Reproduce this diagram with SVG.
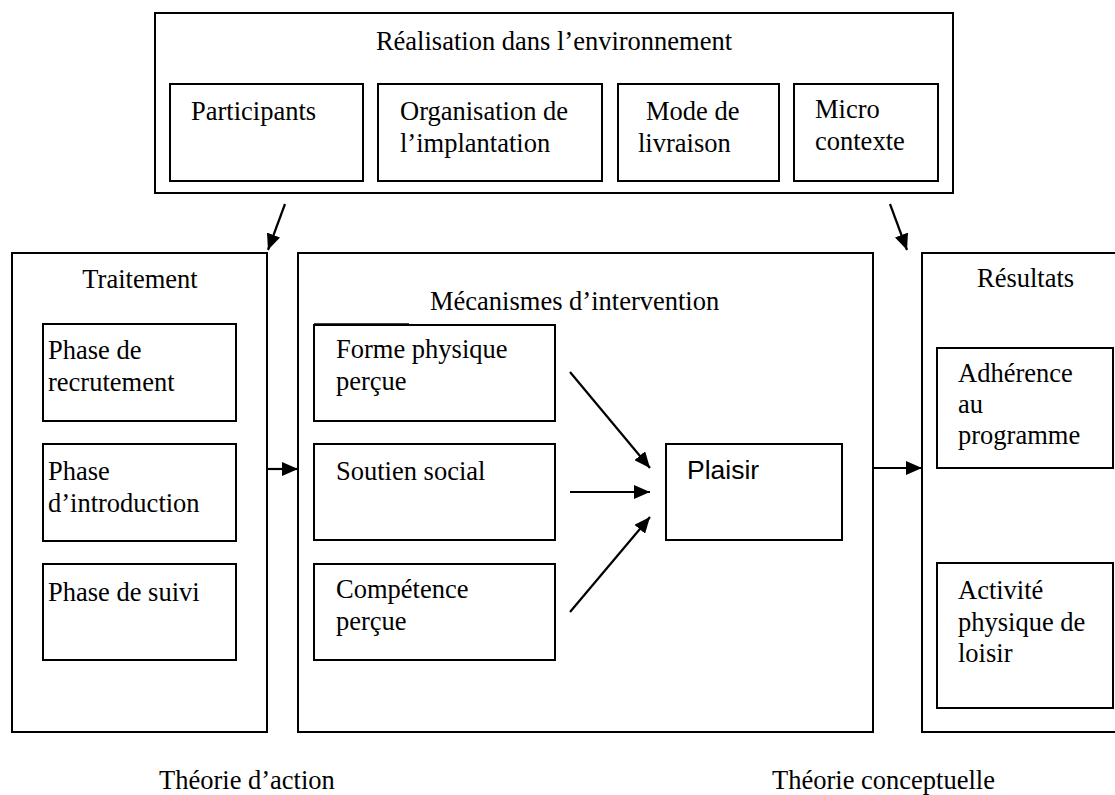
<svg xmlns="http://www.w3.org/2000/svg" width="1115" height="795" viewBox="0 0 1115 795">
<style>
  .box { fill: #fff; stroke: #000; stroke-width: 2; }
  .ibox { fill: #fff; stroke: #000; stroke-width: 2; }
  .t { font-family: "Liberation Serif", "Times New Roman", serif; font-size: 26.5px; fill: #000; }
  .s { font-family: "Liberation Sans", Arial, sans-serif; font-size: 26.5px; fill: #000; }
  .c { text-anchor: middle; }
  .edge { stroke: #000; stroke-width: 2.2; fill: none; marker-end: url(#ah); }
</style>
<defs>
  <marker id="ah" markerUnits="userSpaceOnUse" markerWidth="18" markerHeight="14" refX="16" refY="7" orient="auto">
    <path d="M0,0 L16,7 L0,14 Z" fill="#000"/>
  </marker>
</defs>
<rect width="1115" height="795" fill="#fff"/>

<g id="realisation">
  <rect class="box" x="155" y="13" width="798" height="180"/>
  <text class="t c" x="554" y="50">Réalisation dans l’environnement</text>
</g>
<g id="participants">
  <rect class="ibox" x="170" y="84" width="193" height="97"/>
  <text class="t" x="191" y="120">Participants</text>
</g>
<g id="organisation">
  <rect class="ibox" x="378" y="84" width="224" height="97"/>
  <text class="t" x="400" y="120">Organisation de</text>
  <text class="t" x="400" y="152">l’implantation</text>
</g>
<g id="mode">
  <rect class="ibox" x="618" y="84" width="161" height="97"/>
  <text class="t" x="646" y="120">Mode de</text>
  <text class="t" x="638" y="152">livraison</text>
</g>
<g id="micro">
  <rect class="ibox" x="794" y="84" width="144" height="97"/>
  <text class="t" x="815" y="118">Micro</text>
  <text class="t" x="815" y="150">contexte</text>
</g>

<g id="traitement">
  <rect class="box" x="12" y="253" width="255" height="479"/>
  <text class="t c" x="140" y="288">Traitement</text>
</g>
<g id="recrutement">
  <rect class="ibox" x="43" y="324" width="193" height="97"/>
  <text class="t" x="48" y="359">Phase de</text>
  <text class="t" x="48" y="391">recrutement</text>
</g>
<g id="introduction">
  <rect class="ibox" x="43" y="444" width="193" height="97"/>
  <text class="t" x="48" y="480">Phase</text>
  <text class="t" x="48" y="512">d’introduction</text>
</g>
<g id="suivi">
  <rect class="ibox" x="43" y="564" width="193" height="96"/>
  <text class="t" x="48" y="601">Phase de suivi</text>
</g>

<g id="mecanismes">
  <rect class="box" x="298" y="253" width="575" height="479"/>
  <text class="t" x="430" y="310">Mécanismes d’intervention</text>
</g>
<g id="forme">
  <rect class="ibox" x="314" y="325" width="241" height="96"/>
  <line x1="314" y1="324" x2="409" y2="324" stroke="#000" stroke-width="1.5"/>
  <text class="t" x="336" y="358">Forme physique</text>
  <text class="t" x="336" y="390">perçue</text>
</g>
<g id="soutien">
  <rect class="ibox" x="314" y="444" width="241" height="96"/>
  <text class="t" x="336" y="480">Soutien social</text>
</g>
<g id="competence">
  <rect class="ibox" x="314" y="564" width="241" height="96"/>
  <text class="t" x="336" y="598">Compétence</text>
  <text class="t" x="336" y="630">perçue</text>
</g>
<g id="plaisir">
  <rect class="ibox" x="666" y="444" width="176" height="96"/>
  <text class="s" x="687" y="479">Plaisir</text>
</g>

<g id="resultats">
  <rect class="box" x="922" y="253" width="200" height="479"/>
  <text class="t" x="977" y="287">Résultats</text>
</g>
<g id="adherence">
  <rect class="ibox" x="937" y="348" width="176" height="120"/>
  <text class="t" x="958" y="382">Adhérence</text>
  <text class="t" x="958" y="413">au</text>
  <text class="t" x="958" y="444">programme</text>
</g>
<g id="activite">
  <rect class="ibox" x="937" y="563" width="176" height="145"/>
  <text class="t" x="958" y="599">Activité</text>
  <text class="t" x="958" y="631">physique de</text>
  <text class="t" x="958" y="662">loisir</text>
</g>

<g id="labels">
  <text class="t" x="159" y="789">Théorie d’action</text>
  <text class="t" x="772" y="789">Théorie conceptuelle</text>
</g>

<g id="connectors">
  <line class="edge" x1="285" y1="204" x2="268" y2="250"/>
  <line class="edge" x1="890" y1="204" x2="907" y2="250"/>
  <line class="edge" x1="267" y1="469" x2="298" y2="469"/>
  <line class="edge" x1="873" y1="468" x2="922" y2="468"/>
  <line class="edge" x1="570" y1="372" x2="650" y2="468"/>
  <line class="edge" x1="570" y1="492" x2="650" y2="492"/>
  <line class="edge" x1="570" y1="612" x2="650" y2="517"/>
</g>
</svg>
